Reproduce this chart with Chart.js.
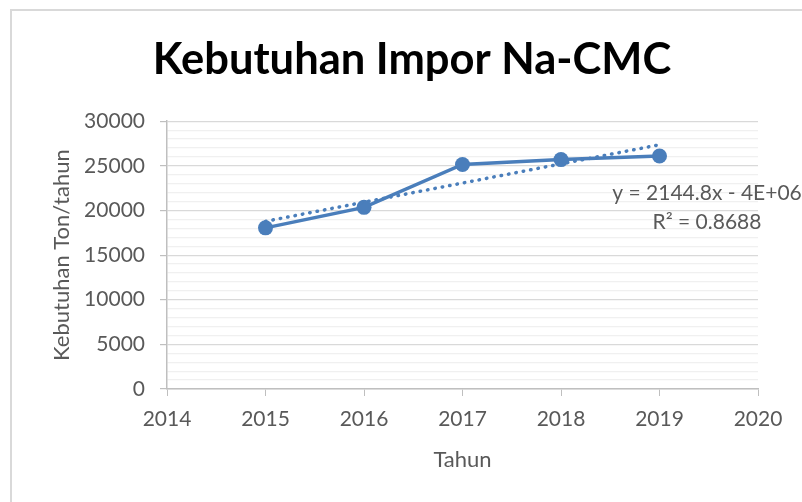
<!DOCTYPE html>
<html>
<head>
<meta charset="utf-8">
<script src="https://cdn.jsdelivr.net/npm/chart.js@4/dist/chart.umd.min.js"></script>
<style>
	html, body { margin: 0; padding: 0; background: #fff; }
	#wrap { width: 802px; height: 502px; }
</style>
</head>
<body>
<div id="wrap"><canvas id="imporChart" width="802" height="502"></canvas></div>
<script>
const years = [2015, 2016, 2017, 2018, 2019];
const kebutuhan = [18050, 20350, 25150, 25700, 26100];
// trendline ends (x = 2015 and 2019)
const trendYears = [2015, 2019];
const trendValues = [18780, 27360];
const trendText = ['y = 2144.8x - 4E+06', 'R\u00B2 = 0.8688'];

const biru = '#4a7ebb';
const abu = '#595959';

const framePlugin = {
	id: 'frame',
	beforeDraw(chart) {
		const ctx = chart.ctx;
		ctx.save();
		ctx.fillStyle = '#fff';
		ctx.fillRect(0, 0, chart.width, chart.height);
		ctx.strokeStyle = '#d9d9d9';
		ctx.lineWidth = 2;
		ctx.strokeRect(11, 10, 1000, 1000);
		ctx.restore();
	}
};

const trendLabelPlugin = {
	id: 'trendLabel',
	afterDatasetsDraw(chart) {
		const ctx = chart.ctx;
		ctx.save();
		ctx.font = '21px Lato';
		ctx.fillStyle = abu;
		ctx.textAlign = 'center';
		ctx.textBaseline = 'middle';
		ctx.fillText(trendText[0], 707, 193);
		ctx.fillText(trendText[1], 707, 222);
		ctx.restore();
	}
};

new Chart(document.getElementById('imporChart'), {
	type: 'line',
	data: {
		datasets: [{
			label: 'Linear',
			data: trendYears.map((x, i) => ({ x: x, y: trendValues[i] })),
			borderColor: biru,
			borderWidth: 3.5,
			borderDash: [0.5, 7],
			borderCapStyle: 'round',
			pointRadius: 0,
			fill: false
		}, {
			label: 'Kebutuhan',
			data: years.map((x, i) => ({ x: x, y: kebutuhan[i] })),
			borderColor: biru,
			backgroundColor: biru,
			borderWidth: 3.5,
			pointRadius: 7.5,
			pointBorderWidth: 0,
			pointBackgroundColor: biru,
			tension: 0,
			fill: false
		}]
	},
	options: {
		responsive: false,
		animation: false,
		layout: {
			padding: { top: 10, left: 66, right: 44, bottom: 20 }
		},
		plugins: {
			legend: { display: false },
			tooltip: { enabled: false },
			title: {
				display: true,
				text: 'Kebutuhan Impor Na-CMC',
				color: '#000',
				font: { family: 'Lato', size: 43.5, weight: 'bold', lineHeight: 1.2 },
				padding: { top: 24, bottom: 35 }
			}
		},
		scales: {
			x: {
				type: 'linear',
				min: 2014,
				max: 2020,
				ticks: {
					stepSize: 1,
					color: abu,
					padding: 11,
					font: { family: 'Lato', size: 21 },
					callback: (v) => String(v)
				},
				grid: {
					drawOnChartArea: false,
					color: '#bfbfbf',
					tickLength: 7
				},
				border: { color: '#bfbfbf', width: 1.5 },
				title: {
					display: true,
					text: 'Tahun',
					color: abu,
					font: { family: 'Lato', size: 22 },
					padding: { top: 0, bottom: 9 }
				},
				afterFit: (scale) => { scale.height = 93; }
			},
			y: {
				min: 0,
				max: 30000,
				ticks: {
					stepSize: 1000,
					autoSkip: false,
					color: abu,
					padding: 15,
					font: { family: 'Lato', size: 21 },
					callback: (v) => (v % 5000 === 0 ? String(v) : '')
				},
				grid: {
					color: (c) => (c.tick && c.tick.value % 5000 === 0 ? '#d9d9d9' : '#f0f0f0'),
					tickColor: (c) => (c.tick && c.tick.value % 5000 === 0 ? '#bfbfbf' : 'rgba(0,0,0,0)'),
					tickLength: 7,
					lineWidth: 1.2
				},
				border: { color: '#bfbfbf', width: 1.5 },
				title: {
					display: true,
					text: 'Kebutuhan Ton/tahun',
					color: abu,
					font: { family: 'Lato', size: 22 },
					padding: { top: -17, bottom: 0 }
				},
				afterFit: (scale) => { scale.width = 101; }
			}
		}
	},
	plugins: [framePlugin, trendLabelPlugin]
});
</script>
</body>
</html>
